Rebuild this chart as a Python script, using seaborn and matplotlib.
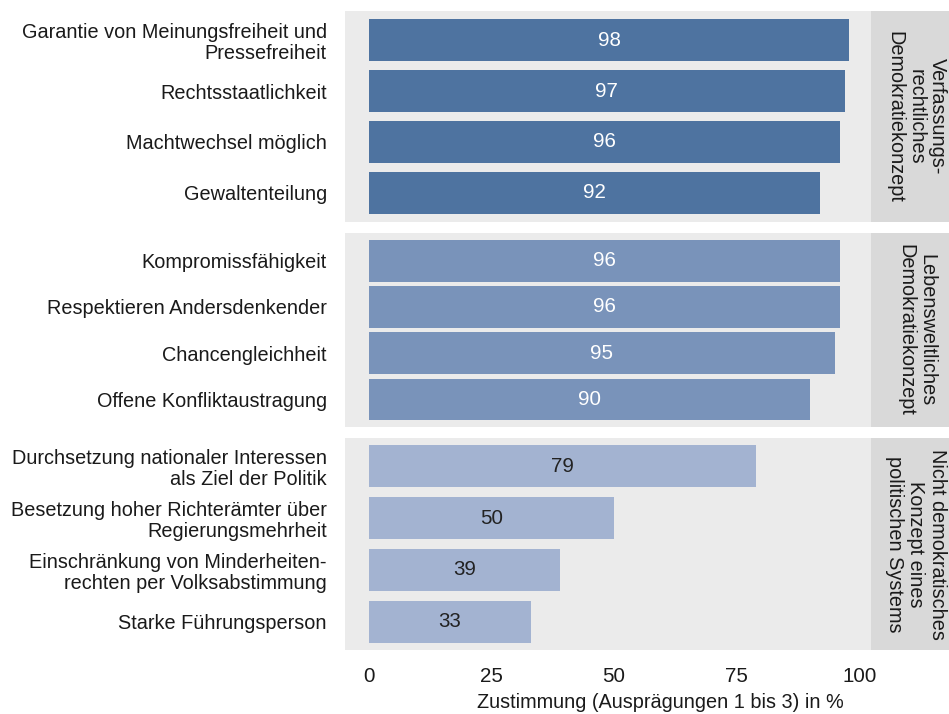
import pandas as pd
import seaborn as sns
import matplotlib.pyplot as plt

# data
groups = [
    "Verfassungs-\nrechtliches\nDemokratiekonzept",
    "Lebensweltliches\nDemokratiekonzept",
    "Nicht demokratisches\nKonzept eines\npolitischen Systems",
]
items_1 = [
    "Garantie von Meinungsfreiheit und\nPressefreiheit",
    "Rechtsstaatlichkeit",
    "Machtwechsel möglich",
    "Gewaltenteilung",
]
values_1 = [98, 97, 96, 92]
items_2 = [
    "Kompromissfähigkeit",
    "Respektieren Andersdenkender",
    "Chancengleichheit",
    "Offene Konfliktaustragung",
]
values_2 = [96, 96, 95, 90]
items_3 = [
    "Durchsetzung nationaler Interessen\nals Ziel der Politik",
    "Besetzung hoher Richterämter über\nRegierungsmehrheit",
    "Einschränkung von Minderheiten-\nrechten per Volksabstimmung",
    "Starke Führungsperson",
]
values_3 = [79, 50, 39, 33]
x_ticks = [0, 25, 50, 75, 100]
x_label = "Zustimmung (Ausprägungen 1 bis 3) in %"

bar_colors = ["#4e73a0", "#7993ba", "#a3b3d1"]
text_colors = ["white", "white", "#222222"]

sns.set_theme(style="white")
plt.rcParams["font.family"] = ["Liberation Sans", "DejaVu Sans"]
FS = 14.3
TICK_FS = 14.8

W, H = 949, 714
fig = plt.figure(figsize=(W / 100, H / 100), dpi=100)

# panel pixel boxes (top, bottom), bar width and y limits
panels = [(11, 222, 0.82, (3.57, -0.57)),
          (233, 427, 0.90, (3.60, -0.60)),
          (438, 650, 0.81, (3.54, -0.54))]
px_left, px_right = 345, 871

data = [(items_1, values_1), (items_2, values_2), (items_3, values_3)]

for i, ((top, bottom, width, ylim), (items, vals)) in enumerate(zip(panels, data)):
    ax = fig.add_axes([px_left / W, 1 - bottom / H, (px_right - px_left) / W, (bottom - top) / H])
    df = pd.DataFrame({"item": items, "value": vals})
    sns.barplot(data=df, x="value", y="item", order=items, color=bar_colors[i],
                width=width, saturation=1, ax=ax, orient="h")
    for p in ax.patches:
        p.set_edgecolor("none")
    ax.set_facecolor("#ebebeb")
    for s in ax.spines.values():
        s.set_visible(False)
    ax.set_xlim(-4.9, 102.4)
    ax.set_ylim(*ylim)
    ax.set_xlabel("")
    ax.set_ylabel("")
    ax.tick_params(axis="y", length=0, pad=13, labelsize=FS, labelcolor="#1a1a1a")
    ax.set_xticks(x_ticks)
    if i < 2:
        ax.tick_params(axis="x", length=0, labelbottom=False)
    else:
        ax.tick_params(axis="x", length=0, pad=12, labelsize=TICK_FS, labelcolor="#1a1a1a")
    for lab in ax.get_yticklabels():
        lab.set_multialignment("right")
        lab.set_linespacing(1.15)
    for c in ax.containers:
        ax.bar_label(c, label_type="center", color=text_colors[i], fontsize=TICK_FS)

    # strip on the right
    sax = fig.add_axes([px_right / W, 1 - bottom / H, (W - px_right) / W + 0.01, (bottom - top) / H])
    sax.set_facecolor("#d9d9d9")
    sax.set_xticks([])
    sax.set_yticks([])
    for s in sax.spines.values():
        s.set_visible(False)
    fig.text(916 / W, 1 - (top + bottom) / 2 / H, groups[i], rotation=-90,
             ha="center", va="center", fontsize=FS, color="#1a1a1a", linespacing=1.15)

fig.text(660 / W, 1 - 703 / H, x_label, ha="center", va="center", fontsize=FS, color="#1a1a1a")

fig.savefig("out.png", dpi=100)
